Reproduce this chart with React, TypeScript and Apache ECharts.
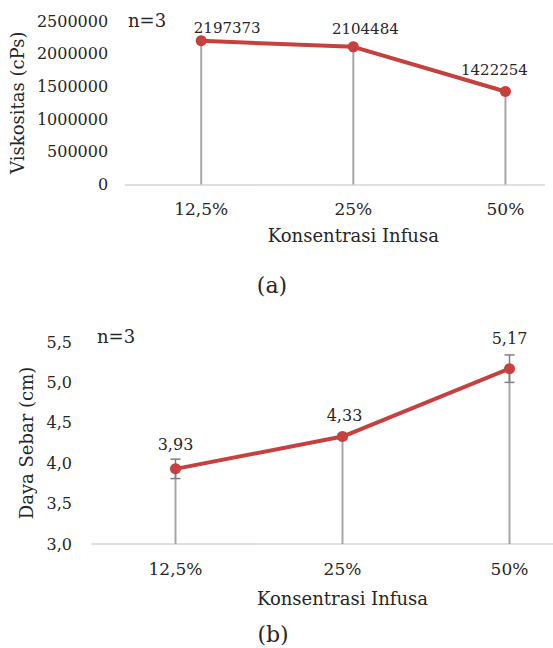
import React, { useEffect, useRef } from "react";
import * as echarts from "echarts";

// Infusion concentrations shared by both panels
const categories = ["12,5%", "25%", "50%"];

// Panel (a): viscosity in cPs
const viscosity = [2197373, 2104484, 1422254];
const viscosityMin = 0;
const viscosityMax = 2500000;
const viscosityStep = 500000;

// Panel (b): spreadability in cm with standard deviation
const spread = [3.93, 4.33, 5.17];
const spreadSD = [0.12, 0.03, 0.17];
const spreadMin = 3;
const spreadMax = 5.5;
const spreadStep = 0.5;

const FONT = "DejaVu Serif, Liberation Serif, serif";
const TEXT = "#262626";
const RED = "#c6403d";
const GREY = "#a6a6a6";

// Label nudges [dx, dy] relative to the default "top" placement
const viscosityLabelShift = [
  [26, 0],
  [12, -5],
  [-11, -8],
];
const spreadLabelShift = [
  [0, -11],
  [2, -8],
  [0, -17],
];

const dropLine = (base: number) => (params: any, api: any) => {
  const x = api.value(0);
  const p0 = api.coord([x, base]);
  const p1 = api.coord([x, api.value(1)]);
  return {
    type: "line",
    shape: { x1: p0[0], y1: p0[1], x2: p1[0], y2: p1[1] },
    style: { stroke: GREY, lineWidth: 2 },
  };
};

const errorBar = (params: any, api: any) => {
  const x = api.value(0);
  const lo = api.coord([x, api.value(1)]);
  const hi = api.coord([x, api.value(2)]);
  const half = 5;
  const style = { stroke: "#7f7f7f", lineWidth: 1.5 };
  return {
    type: "group",
    children: [
      { type: "line", shape: { x1: lo[0], y1: lo[1], x2: hi[0], y2: hi[1] }, style },
      { type: "line", shape: { x1: hi[0] - half, y1: hi[1], x2: hi[0] + half, y2: hi[1] }, style },
      { type: "line", shape: { x1: lo[0] - half, y1: lo[1], x2: lo[0] + half, y2: lo[1] }, style },
    ],
  };
};

const categoryAxis = (gridIndex: number, nameGap: number) => ({
  gridIndex,
  type: "category",
  data: categories,
  boundaryGap: true,
  axisLine: { lineStyle: { color: "#d4d4d4", width: 1.5 } },
  axisTick: { show: false },
  axisLabel: { fontFamily: FONT, fontSize: 17, color: TEXT, margin: 16 },
  name: "Konsentrasi Infusa",
  nameLocation: "middle",
  nameGap,
  nameTextStyle: { fontFamily: FONT, fontSize: 18, color: TEXT },
});

export default function App() {
  const ref = useRef<HTMLDivElement>(null);

  useEffect(() => {
    if (!ref.current) return;
    const chart = echarts.init(ref.current, null, { renderer: "svg" });

    chart.setOption({
      animation: false,
      backgroundColor: "#ffffff",
      grid: [
        { left: 124, width: 457.5, top: 21, height: 163.5 },
        { left: 92, width: 501, top: 342, height: 202 },
      ],
      xAxis: [categoryAxis(0, 42), categoryAxis(1, 45)],
      yAxis: [
        {
          gridIndex: 0,
          type: "value",
          min: viscosityMin,
          max: viscosityMax,
          interval: viscosityStep,
          axisLine: { show: false },
          axisTick: { show: false },
          splitLine: { show: false },
          axisLabel: {
            fontFamily: FONT,
            fontSize: 16,
            color: TEXT,
            margin: 17,
            formatter: (v: number) => String(v),
          },
          name: "Viskositas (cPs)",
          nameLocation: "middle",
          nameRotate: 90,
          nameGap: 91,
          nameTextStyle: { fontFamily: FONT, fontSize: 18, color: TEXT },
        },
        {
          gridIndex: 1,
          type: "value",
          min: spreadMin,
          max: spreadMax,
          interval: spreadStep,
          axisLine: { show: false },
          axisTick: { show: false },
          splitLine: { show: false },
          axisLabel: {
            fontFamily: FONT,
            fontSize: 16,
            color: TEXT,
            margin: 20,
            formatter: (v: number) => v.toFixed(1).replace(".", ","),
          },
          name: "Daya Sebar (cm)",
          nameLocation: "middle",
          nameRotate: 90,
          nameGap: 54,
          nameTextStyle: { fontFamily: FONT, fontSize: 18, color: TEXT },
        },
      ],
      series: [
        {
          type: "custom",
          xAxisIndex: 0,
          yAxisIndex: 0,
          z: 1,
          renderItem: dropLine(viscosityMin),
          data: viscosity.map((v, i) => [i, v]),
        },
        {
          type: "line",
          xAxisIndex: 0,
          yAxisIndex: 0,
          z: 3,
          symbol: "circle",
          symbolSize: 11,
          lineStyle: { color: RED, width: 4 },
          itemStyle: { color: RED },
          label: {
            show: true,
            position: "top",
            distance: 0,
            fontFamily: FONT,
            fontSize: 15,
            color: TEXT,
            formatter: (p: any) => String(p.value),
          },
          data: viscosity.map((v, i) => ({
            value: v,
            label: { offset: viscosityLabelShift[i] },
          })),
        },
        {
          type: "custom",
          xAxisIndex: 1,
          yAxisIndex: 1,
          z: 1,
          renderItem: dropLine(spreadMin),
          data: spread.map((v, i) => [i, v]),
        },
        {
          type: "custom",
          xAxisIndex: 1,
          yAxisIndex: 1,
          z: 2,
          renderItem: errorBar,
          data: spread.map((v, i) => [i, v - spreadSD[i], v + spreadSD[i]]),
        },
        {
          type: "line",
          xAxisIndex: 1,
          yAxisIndex: 1,
          z: 3,
          symbol: "circle",
          symbolSize: 11,
          lineStyle: { color: RED, width: 4 },
          itemStyle: { color: RED },
          label: {
            show: true,
            position: "top",
            distance: 0,
            fontFamily: FONT,
            fontSize: 16,
            color: TEXT,
            formatter: (p: any) => p.value.toFixed(2).replace(".", ","),
          },
          data: spread.map((v, i) => ({
            value: v,
            label: { offset: spreadLabelShift[i] },
          })),
        },
      ],
      graphic: [
        // trims the end of panel (a)'s baseline
        { type: "rect", z: 100, shape: { x: 545, y: 178, width: 60, height: 14 }, style: { fill: "#ffffff" } },
        {
          type: "text",
          left: 128,
          top: 11,
          style: { text: "n=3", fontFamily: FONT, fontSize: 18, fill: TEXT },
        },
        {
          type: "text",
          left: 97,
          top: 327,
          style: { text: "n=3", fontFamily: FONT, fontSize: 18, fill: TEXT },
        },
        {
          type: "text",
          x: 272,
          y: 285,
          style: { text: "(a)", fontFamily: FONT, fontSize: 22, fill: TEXT, align: "center", verticalAlign: "middle" },
        },
        {
          type: "text",
          x: 273,
          y: 634,
          style: { text: "(b)", fontFamily: FONT, fontSize: 22, fill: TEXT, align: "center", verticalAlign: "middle" },
        },
      ],
    });

    return () => chart.dispose();
  }, []);

  return (
    <div style={{ position: "absolute", left: 0, top: 0, width: 553, height: 648, overflow: "hidden" }}>
      <div ref={ref} style={{ width: 600, height: 648 }} />
    </div>
  );
}
